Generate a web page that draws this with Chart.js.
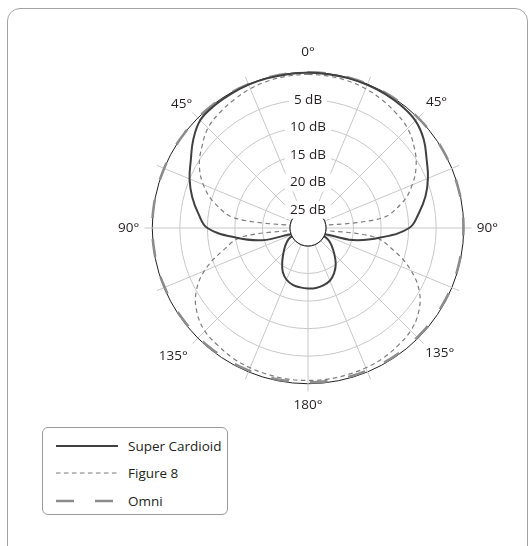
<!DOCTYPE html>
<html>
<head>
<meta charset="utf-8">
<script src="https://cdn.jsdelivr.net/npm/chart.js@4"></script>
<style>
  html, body { margin: 0; padding: 0; background: #fff; }
  body { width: 530px; height: 546px; position: relative; overflow: hidden; font-family: "Open Sans", sans-serif; }
  #frame { position: absolute; left: 7px; top: 8px; width: 521px; height: 560px; border: 1px solid #a3a3a3; border-radius: 13px; box-sizing: border-box; }
  #chart { position: absolute; left: 0; top: 0; }
  #legend { position: absolute; left: 42px; top: 427px; width: 186px; height: 88px; border: 1px solid #9a9a9a; border-radius: 6px; box-sizing: border-box; background: #fff; }
  .row { position: absolute; left: 0; height: 20px; width: 100%; }
  .row svg { position: absolute; left: 13px; top: 0; }
  .row span { position: absolute; left: 85px; top: 0; line-height: 20px; font-size: 13.5px; color: #231f20; white-space: nowrap; }
</style>
</head>
<body>
<div id="frame"></div>
<canvas id="chart" width="530" height="546"></canvas>
<div id="legend"></div>
<script>
// Angles (degrees, clockwise from front)
const angles = [0,7.5,15,22.5,30,37.5,45,52.5,60,67.5,75,82.5,90,97.5,105,112.5,120,127.5,135,142.5,150,157.5,165,172.5,
                180,187.5,195,202.5,210,217.5,225,232.5,240,247.5,255,262.5,270,277.5,285,292.5,300,307.5,315,322.5,330,337.5,345,352.5];

// Series: relative level in dB (0 = outer ring)
const superCardioid = [-0.1,-0.1,-0.1,-0.15,-0.2,-0.35,-0.7,-1.8,-3.4,-4.7,-6.2,-8.0,-9.9,-15.0,-19.8,-25.6,-24.0,-22.8,-21.5,-20.0,-18.8,-17.9,-17.5,-17.3,
                       -17.3,-17.4,-17.6,-18.1,-19.1,-20.6,-22.0,-23.1,-24.2,-25.6,-19.7,-15.0,-10.0,-8.2,-6.5,-5.0,-3.7,-2.0,-0.6,-0.3,-0.2,-0.1,-0.1,-0.1];
const figure8 = [-0.4,-0.45,-0.6,-0.9,-1.4,-2.0,-2.7,-4.0,-5.6,-7.8,-10.6,-15.0,-28.2,-16.5,-12.0,-8.0,-4.9,-3.0,-1.9,-1.4,-1.0,-0.8,-0.7,-0.6,
                 -0.6,-0.6,-0.7,-0.8,-1.0,-1.4,-1.8,-2.9,-4.8,-7.9,-12.2,-16.4,-28.2,-15.2,-10.7,-7.7,-5.5,-4.0,-2.6,-1.9,-1.4,-0.9,-0.6,-0.45];
const omni = [0,0,0,0,0,0,0,0,0,-0.05,-0.05,-0.05,-0.05,-0.1,-0.1,-0.1,-0.15,-0.15,-0.2,-0.2,-0.2,-0.25,-0.25,-0.25,
              -0.25,-0.25,-0.25,-0.25,-0.2,-0.2,-0.15,-0.15,-0.1,-0.1,-0.05,-0.05,0,0,0,0,0,0,0,0,0,0,0,0];

const seriesNames = ['Super Cardioid', 'Figure 8', 'Omni'];

// Radial ticks
const tickValues = [-25, -20, -15, -10, -5, 0];
const tickLabels = ['25 dB', '20 dB', '15 dB', '10 dB', '5 dB', ''];
const shownAngles = [0, 45, 90, 135, 180, 225, 270, 315];
const holeLevel = -25;

const labelPad = { 0: -4.4, 45: -5.4, 315: -8.5, 90: -3.4, 270: -3.4, 135: -6.4, 225: -2.0, 180: -3.4 };

const holePlugin = {
  id: 'hole',
  afterDatasetsDraw(chart) {
    const s = chart.scales.r;
    const rad = s.getDistanceFromCenterForValue(holeLevel);
    const ctx = chart.ctx;
    ctx.save();
    ctx.beginPath();
    ctx.arc(s.xCenter, s.yCenter, rad, 0, Math.PI * 2);
    ctx.fillStyle = '#ffffff';
    ctx.fill();
    ctx.lineWidth = 1;
    ctx.strokeStyle = '#231f20';
    ctx.stroke();
    ctx.restore();
    s.drawLabels();
  }
};

const chart = new Chart(document.getElementById('chart'), {
  type: 'radar',
  data: {
    labels: angles.map(a => (a <= 180 ? a : 360 - a) + '°'),
    datasets: [
      { label: seriesNames[0], data: superCardioid, borderColor: '#404040', borderWidth: 2, borderDash: [], fill: false },
      { label: seriesNames[1], data: figure8, borderColor: '#7d7d7d', borderWidth: 1.2, borderDash: [4.5, 3.5], fill: false },
      { label: seriesNames[2], data: omni, borderColor: '#8c8c8c', borderWidth: 2.6, borderDash: [18, 21], fill: false }
    ]
  },
  options: {
    responsive: false,
    animation: false,
    devicePixelRatio: 1,
    layout: { padding: { left: 118, top: 39, right: 31, bottom: 126 } },
    elements: {
      line: { tension: 0.4, borderJoinStyle: 'round', borderCapStyle: 'butt' },
      point: { radius: 0, hitRadius: 0, hoverRadius: 0 }
    },
    plugins: { legend: { display: false }, tooltip: { enabled: false } },
    events: [],
    scales: {
      r: {
        min: -28.27,
        max: 1.4,
        afterBuildTicks: (scale) => { scale.ticks = tickValues.map(v => ({ value: v })); },
        grid: {
          circular: true,
          lineWidth: 1,
          color: (c) => (c.tick && (c.tick.value === 0 || c.tick.value === holeLevel)) ? '#231f20' : '#c8c8c8'
        },
        angleLines: {
          display: true,
          color: '#c8c8c8',
          lineWidth: (c) => (c.index % 3 === 0 && c.index !== 0) ? 1 : 0
        },
        ticks: {
          display: true,
          callback: (v, i) => tickLabels[i],
          font: { family: 'Open Sans', size: 13.5 },
          color: '#231f20',
          backdropColor: '#ffffff',
          backdropPadding: { x: 5, y: 2 },
          showLabelBackdrop: (c) => !(c.tick && c.tick.value === 0)
        },
        pointLabels: {
          display: true,
          callback: (label, i) => shownAngles.includes(angles[i]) ? label : '',
          font: { family: 'Open Sans', size: 13.5 },
          color: '#231f20',
          padding: (c) => (labelPad[angles[c.index]] !== undefined ? labelPad[angles[c.index]] : -40)
        }
      }
    }
  },
  plugins: [holePlugin]
});

// HTML legend built from the chart datasets
const legend = document.getElementById('legend');
const rowTops = [8, 35, 63];
chart.data.datasets.forEach((ds, i) => {
  const row = document.createElement('div');
  row.className = 'row';
  row.style.top = rowTops[i] + 'px';
  const dash = (ds.borderDash && ds.borderDash.length) ? ds.borderDash.join(',') : 'none';
  row.innerHTML = '<svg width="62" height="20"><line x1="0" y1="10" x2="62" y2="10" stroke="' + ds.borderColor +
    '" stroke-width="' + ds.borderWidth + '" stroke-dasharray="' + dash + '"/></svg><span></span>';
  row.querySelector('span').textContent = ds.label;
  legend.appendChild(row);
});
</script>
</body>
</html>
